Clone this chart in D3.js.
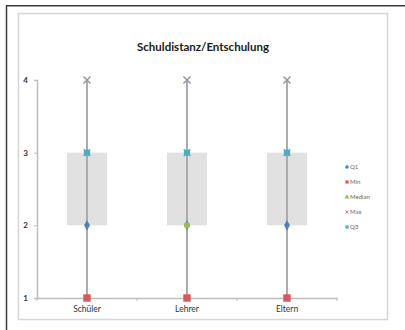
<!DOCTYPE html>
<html>
<head>
<meta charset="utf-8">
<script src="https://cdn.jsdelivr.net/npm/d3@7"></script>
<style>
  html, body { margin: 0; padding: 0; background: #fff; }
  svg { display: block; }
</style>
</head>
<body>
<svg id="chart" width="405" height="330"></svg>
<script>
const categories = ["Schüler", "Lehrer", "Eltern"];
const minVals    = [1, 1, 1];
const q1Vals     = [2, 2, 2];
const medianVals = [3, 2, 3];
const maxVals    = [4, 4, 4];
const q3Vals     = [3, 3, 3];
const yTicks     = [1, 2, 3, 4];
const seriesNames = ["Q1", "Min", "Median", "Max", "Q3"];
const title = "Schuldistanz/Entschulung";

const svg = d3.select("#chart");
const font = "Lato, 'Open Sans', sans-serif";

// frames
svg.append("line").attr("x1", 6.5).attr("x2", 6.5).attr("y1", 5).attr("y2", 330)
  .attr("stroke", "#3c3c3c").attr("stroke-width", 1.5);
svg.append("line").attr("x1", 6).attr("x2", 405).attr("y1", 5.75).attr("y2", 5.75)
  .attr("stroke", "#3c3c3c").attr("stroke-width", 1.5);
svg.append("rect").attr("x", 18.5).attr("y", 13.5).attr("width", 369).attr("height", 306)
  .attr("fill", "none").attr("stroke", "#d6d6d6").attr("stroke-width", 1.5);

// title
svg.append("text").attr("x", 203).attr("y", 51).attr("text-anchor", "middle")
  .attr("font-family", font).attr("font-weight", "bold").attr("font-size", 11.5)
  .attr("fill", "#1a1a1a").text(title);

const y = d3.scaleLinear().domain([1, 4]).range([298, 80]);
const x = d3.scaleBand().domain(categories).range([37, 337]).padding(0);
const boxW = x.bandwidth() * 0.4;

// y axis
const yAxis = svg.append("g").attr("transform", "translate(37,0)")
  .call(d3.axisLeft(y).tickValues(yTicks).tickSize(3).tickPadding(6).tickFormat(d3.format("d")));
yAxis.select(".domain").attr("stroke", "#bdbdbd").attr("stroke-width", 1.5);
yAxis.selectAll(".tick line").attr("stroke", "#bdbdbd");
yAxis.selectAll(".tick text").attr("font-family", font).attr("font-size", 8)
  .attr("font-weight", "bold").attr("fill", "#333");

// boxes
const idx = d3.range(categories.length);
svg.append("g").selectAll("rect").data(idx).join("rect")
  .attr("x", i => x(categories[i]) + x.bandwidth() / 2 - boxW / 2)
  .attr("y", i => y(q3Vals[i]))
  .attr("width", boxW)
  .attr("height", i => y(q1Vals[i]) - y(q3Vals[i]))
  .attr("fill", "#e1e1e1");

// x axis
const xAxis = svg.append("g").attr("transform", "translate(0,298)")
  .call(d3.axisBottom(x).tickSize(0).tickPadding(8));
xAxis.select(".domain").attr("stroke", "#bdbdbd").attr("stroke-width", 1.5);
xAxis.selectAll(".tick text").attr("font-family", font).attr("font-size", 8.5).attr("fill", "#333");
const edges = categories.map(c => x(c)).concat([x.range()[1]]);
svg.append("g").selectAll("line").data(edges).join("line")
  .attr("x1", d => d).attr("x2", d => d).attr("y1", 298).attr("y2", 301)
  .attr("stroke", "#bdbdbd");

// whiskers
svg.append("g").selectAll("line").data(idx).join("line")
  .attr("x1", i => x(categories[i]) + x.bandwidth() / 2)
  .attr("x2", i => x(categories[i]) + x.bandwidth() / 2)
  .attr("y1", i => y(maxVals[i])).attr("y2", i => y(minVals[i]))
  .attr("stroke", "#acacac").attr("stroke-width", 2);

// series markers
const colors = ["#4f81bd", "#d9575a", "#9bbb59", "#9a93ad", "#4bacc6"];
const cx = i => x(categories[i]) + x.bandwidth() / 2;
function pts(vals) {
  return svg.append("g").selectAll("path").data(idx).join("path")
    .attr("transform", i => `translate(${cx(i)},${y(vals[i])})`);
}
pts(q1Vals).attr("d", d3.symbol().type(d3.symbolDiamond).size(30)).attr("fill", colors[0]);
pts(minVals).attr("d", d3.symbol().type(d3.symbolSquare).size(55)).attr("fill", colors[1]);
pts(medianVals).attr("d", d3.symbol().type(d3.symbolCircle).size(30)).attr("fill", colors[2]);
pts(maxVals).attr("d", d3.symbol().type(d3.symbolTimes).size(35))
  .attr("fill", "none").attr("stroke", colors[3]).attr("stroke-width", 1.5);
pts(q3Vals).attr("d", d3.symbol().type(d3.symbolCircle).size(32)).attr("fill", colors[4]);
pts(q3Vals).attr("d", d3.symbol().type(d3.symbolTimes).size(30))
  .attr("fill", "none").attr("stroke", colors[4]).attr("stroke-width", 1.5);

// legend
const legSyms = [d3.symbolCircle, d3.symbolSquare, d3.symbolTriangle, d3.symbolTimes, d3.symbolSquare];
const leg = svg.append("g").selectAll("g").data(seriesNames).join("g")
  .attr("transform", (d, i) => `translate(347,${167 + i * 15})`);
leg.append("path")
  .attr("d", (d, i) => d3.symbol().type(legSyms[i]).size(i === 3 ? 8 : 10)())
  .attr("fill", (d, i) => i === 3 ? "none" : colors[i])
  .attr("stroke", (d, i) => i === 3 ? colors[i] : "none");
leg.append("text").attr("x", 3).attr("y", 2).attr("font-family", font).attr("font-size", 6)
  .attr("fill", "#666").text(d => d);
</script>
</body>
</html>
